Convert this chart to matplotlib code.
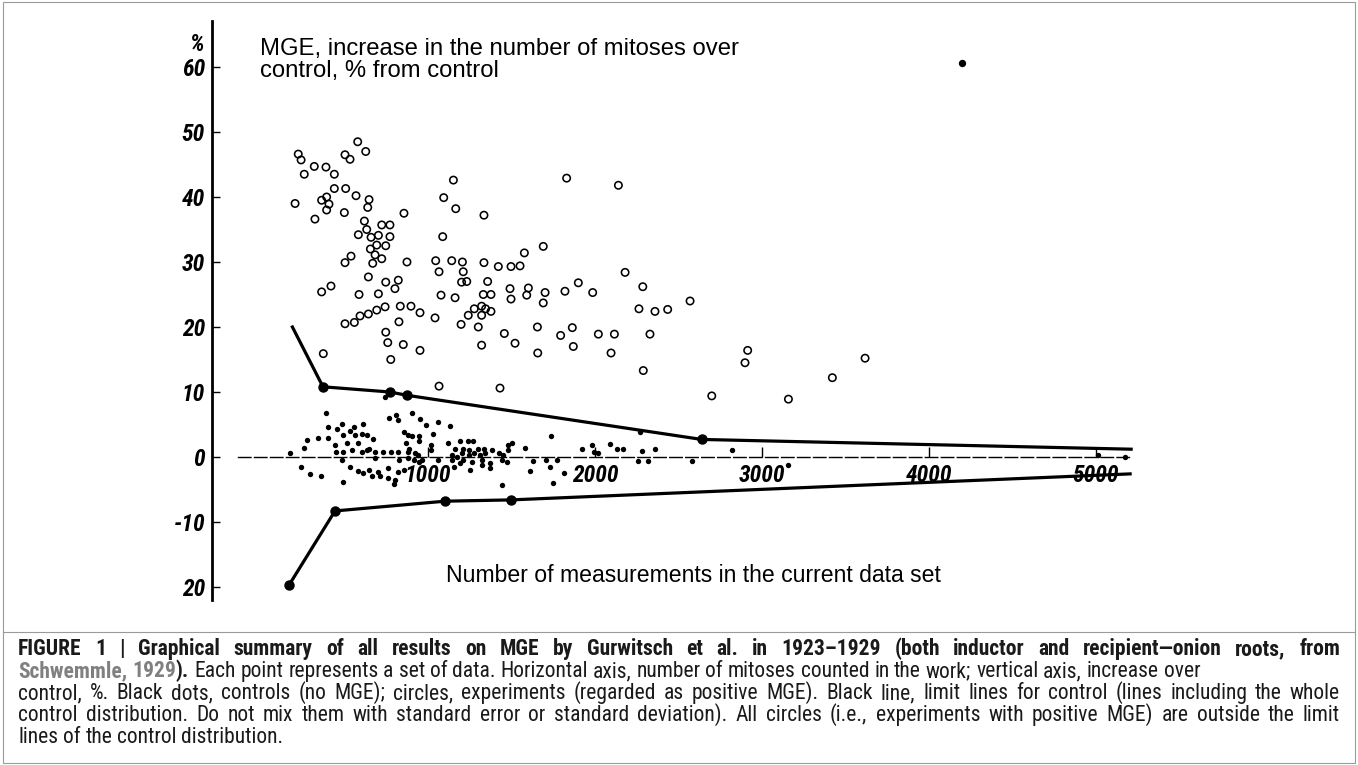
import matplotlib
matplotlib.use('Agg')
import matplotlib.pyplot as plt
from matplotlib import font_manager
from matplotlib.lines import Line2D
from matplotlib.patches import Rectangle

W, H = 1358, 765

# experiments (open circles): number of mitoses counted, increase over control %
exp_x = [223, 240, 319, 389, 259, 439, 579, 627, 503, 533, 439, 507, 569, 647, 204, 363, 393, 407,
         393, 499, 639, 323, 619, 856, 633, 723, 772, 583, 659, 703, 772, 693, 747, 655, 683, 723,
         669, 503, 539, 874, 1046, 1142, 1206, 1335, 1421, 1497, 1551, 1094, 1166, 1335, 1088, 1152,
         1830, 2140, 1577, 1690,
         363, 419, 587, 703, 643, 747, 822, 802, 503, 559, 593, 643, 693, 743, 834, 898, 952, 1042,
         826, 747, 759, 852, 952, 777, 373, 1066, 1211, 1201, 1232, 1357, 1078, 1162, 1331, 1377,
         1277, 1321, 1345, 1377, 1321, 1241, 1198, 1301, 1321, 1491, 1601, 1591, 1701, 1690, 1497,
         1820, 1900, 1986, 2286, 2180, 2263, 2359, 2435, 2569, 1457, 1521, 1655, 1657, 1794, 1864,
         1870, 2020, 2116, 2096, 2329, 2289, 1066, 1431, 2699,
         2914, 2898, 3617, 3421, 3158]
exp_y = [46.6, 45.7, 44.7, 44.6, 43.5, 43.5, 48.5, 47.0, 46.5, 45.8, 41.3, 41.3, 40.2, 39.6, 39.0, 39.5, 40.0, 38.9,
         38.0, 37.6, 38.4, 36.6, 36.3, 37.5, 35.0, 35.7, 35.7, 34.2, 33.8, 34.1, 33.9, 32.6, 32.5, 32.0, 31.1, 30.5,
         29.8, 29.9, 30.9, 30.0, 30.2, 30.2, 30.0, 29.9, 29.3, 29.3, 29.4, 39.9, 38.2, 37.2, 33.9, 42.6,
         42.9, 41.8, 31.4, 32.4,
         25.4, 26.3, 25.0, 25.1, 27.7, 26.9, 27.2, 25.9, 20.5, 20.7, 21.7, 22.0, 22.6, 23.1, 23.2, 23.2, 22.2, 21.4,
         20.8, 19.2, 17.6, 17.3, 16.4, 15.0, 15.9, 28.5, 28.5, 26.9, 27.0, 27.0, 24.9, 24.5, 25.0, 25.0,
         22.8, 23.2, 22.8, 22.4, 21.8, 21.8, 20.4, 20.0, 17.2, 25.9, 26.0, 24.9, 25.3, 23.7, 24.3,
         25.5, 26.8, 25.3, 26.2, 28.4, 22.8, 22.4, 22.7, 24.0, 19.0, 17.5, 20.0, 16.0, 18.7, 19.9,
         17.0, 18.9, 18.9, 16.0, 18.9, 13.3, 10.9, 10.6, 9.4,
         16.4, 14.5, 15.2, 12.2, 8.9]

# controls (black dots)
ctrl_x = [174, 259, 240, 293, 359, 274, 339, 387, 399, 399, 453, 483, 533, 559, 613, 493, 563, 607, 637, 673,
          443, 513, 583, 647, 447, 493, 547, 603, 633, 487, 683, 733, 778, 822, 878, 683, 826, 878, 918, 946,
          533, 583, 613, 647, 703, 663, 713, 762, 802, 759, 822, 858, 493, 798, 766, 806, 818, 906, 952, 986,
          1058, 1032, 1132, 858, 878, 866, 902, 946, 946, 1018, 1018, 886, 922, 942, 962, 1058, 1122, 1162,
          1192, 1241, 1271, 1211, 1246, 1301, 1337, 1142, 1172, 1202, 1246, 1277, 1311, 1341, 1381, 1425,
          1451, 1481, 1501, 1477, 1146, 1211, 1262, 1321, 1371, 1445, 1471, 1158, 1192, 1251, 1321, 1371,
          1445, 1581, 1631, 1611, 1705, 1737, 1731, 1771, 1751, 1817, 1920, 1980, 1996, 2020, 2090, 2129,
          2170, 2269, 2280, 2256, 2319, 2359, 2583, 2818, 3158, 5174, 5010, 743]
ctrl_y = [0.6, 1.4, -1.5, -2.6, -2.9, 2.6, 2.9, 6.7, 4.6, 2.9, 4.3, 5.1, 4.0, 4.6, 5.1, 3.4, 3.4, 3.5, 3.4, 2.7,
          1.8, 2.1, 2.1, 1.2, 0.8, 0.7, 1.1, 0.8, 1.1, -0.4, 0.8, 0.8, 0.8, 0.8, 0.8, -0.2, -0.5, -0.2, -0.5, -0.7,
          -1.6, -2.1, -2.4, -2.0, -2.3, -2.9, -3.0, -3.3, -3.5, -1.7, -2.3, -2.0, -3.8, -4.2, 6.0, 6.5, 5.7, 6.8, 5.8, 4.9,
          5.4, 3.6, 4.7, 3.9, 3.4, 2.1, 3.2, 3.2, 2.4, 1.8, 1.1, 1.2, 0.6, 0.3, -0.5, -0.5, 2.1, 1.3,
          2.4, 2.4, 2.4, 1.2, 1.1, 1.2, 1.2, 0.3, 0.0, 0.6, 0.3, 0.6, 0.3, 0.6, 1.1, 0.6,
          0.3, 1.8, 2.1, 1.1, -0.5, -0.5, -0.7, -0.4, -1.0, -0.5, -0.7, -1.5, -1.0, -2.0, -1.2, -1.7,
          -4.3, 1.4, -0.6, -2.2, -0.4, 3.2, -1.5, -0.5, -4.0, -2.4, 1.3, 1.8, 0.8, 0.6, 2.0, 1.2,
          1.2, 3.8, 0.9, -0.6, -0.6, 1.3, -0.6, 1.0, -1.2, 0.0, 0.3, 9.2]

# limit lines for the control distribution
upper_x = [188, 371, 772, 872, 2639, 5210]
upper_y = [20.0, 10.8, 10.0, 9.5, 2.7, 1.2]
lower_x = [168, 443, 1102, 1497, 5204]
lower_y = [-19.7, -8.3, -6.8, -6.6, -2.6]

# stray speck of the scan, top right
speck_x = [4198]
speck_y = [60.6]

x_ticks = [1000, 2000, 3000, 4000, 5000]
x_labels = ['1000', '2000', '3000', '4000', '5000']
y_ticks = [60, 50, 40, 30, 20, 10, 0, -10, -20]
y_labels = ['60', '50', '40', '30', '20', '10', '0', '-10', '20']

# fonts
avail = {f.name for f in font_manager.fontManager.ttflist}
narrow = next((n for n in ['Liberation Sans Narrow', 'Roboto Condensed', 'Open Sans Condensed']
               if n in avail), 'DejaVu Sans')
sans = 'Liberation Sans' if 'Liberation Sans' in avail else 'DejaVu Sans'

fig = plt.figure(figsize=(W / 100, H / 100), dpi=100)
fig.patch.set_facecolor('white')
ax = fig.add_axes([212 / W, (H - 605) / H, 938 / W, 585 / H])
ax.set_xlim(-293.4, 5323)
ax.set_ylim(-22.77, 67.23)

for s in ['top', 'right']:
    ax.spines[s].set_visible(False)
ax.spines['left'].set_linewidth(2.0)
ax.spines['left'].set_bounds(-22, 67)
ax.spines['bottom'].set_position(('data', 0))
ax.spines['bottom'].set_linewidth(1.0)
ax.spines['bottom'].set_linestyle((0, (9, 2.5)))
ax.spines['bottom'].set_bounds(-135, 5200)

tick_font = dict(family=narrow, style='italic', weight='bold', size=17)
ax.set_xticks(x_ticks)
ax.set_xticklabels(x_labels, **tick_font)
ax.set_yticks(y_ticks)
ax.set_yticklabels(y_labels, **tick_font)
ax.tick_params(axis='x', direction='in', length=7, width=1, pad=5)
ax.tick_params(axis='y', direction='in', length=6, width=1, pad=5)

# limit lines
ax.plot(upper_x, upper_y, '-o', color='black', lw=2.3, ms=6.5, markevery=[1, 2, 3, 4],
        solid_joinstyle='round', zorder=3)
ax.plot(lower_x, lower_y, '-o', color='black', lw=2.3, ms=6.5, markevery=[0, 1, 2, 3],
        solid_joinstyle='round', zorder=3)

# points
ax.scatter(exp_x, exp_y, s=28, facecolors='none', edgecolors='black', linewidths=1.15, zorder=4)
ax.scatter(ctrl_x, ctrl_y, s=15, color='black', linewidths=0, zorder=4)
ax.scatter(speck_x, speck_y, s=28, color='black', linewidths=0, zorder=4)

ax.text(-335, 63.4, '%', ha='right', va='center', **tick_font)
ax.text(-6, 61.0, 'MGE, increase in the number of mitoses over\ncontrol, % from control',
        ha='left', va='center', family=sans, fontsize=17.2, linespacing=1.0)
ax.text(1108, -18.3, 'Number of measurements in the current data set',
        ha='left', va='center', family=sans, fontsize=16.6)

# frame round figure and caption
fig.add_artist(Rectangle((3 / W, 1 - 763 / H), 1352 / W, 761 / H, transform=fig.transFigure,
                         fill=False, ec='#9a9a9a', lw=0.8))
fig.add_artist(Line2D([3 / W, 1355 / W], [1 - 632 / H] * 2, transform=fig.transFigure,
                      color='#9a9a9a', lw=0.8))

# caption
txt_col = '#1a1a1a'
link_col = '#808080'
cap_lines = [
    ([('FIGURE 1 | Graphical summary of all results on MGE by Gurwitsch et al. in 1923–1929 '
       '(both inductor and recipient—onion roots, from', 'bold', txt_col)], True),
    ([('Schwemmle, 1929', 'bold', link_col), (').', 'bold', txt_col),
      ('Each point represents a set of data. Horizontal axis, number of mitoses counted in the work; '
       'vertical axis, increase over', 'normal', txt_col)], False),
    ([('control, %. Black dots, controls (no MGE); circles, experiments (regarded as positive MGE). '
       'Black line, limit lines for control (lines including the whole', 'normal', txt_col)], True),
    ([('control distribution. Do not mix them with standard error or standard deviation). '
       'All circles (i.e., experiments with positive MGE) are outside the limit', 'normal', txt_col)], True),
    ([('lines of the control distribution.', 'normal', txt_col)], False),
]
baselines = [655, 677, 699, 721, 743]
x_left, x_right = 18, 1340

renderer = fig.canvas.get_renderer()


def measure(s, size, weight):
    t = fig.text(0, 0, s, family=narrow, size=size, weight=weight)
    w = t.get_window_extent(renderer).width
    t.remove()
    return w


def split_words(segs):
    words = []
    for seg_i, (s, wt, col) in enumerate(segs):
        parts = s.split(' ')
        for j, p in enumerate(parts):
            glue = (seg_i > 0 and j == 0 and p in (').',))
            words.append((p, wt, col, glue))
    return words


# calibrate size on line 2 (natural spacing), which ends at x=1197
ref_size = 10
words2 = split_words(cap_lines[1][0])
sp = measure('a a', ref_size, 'normal') - measure('aa', ref_size, 'normal')
nat = sum(measure(w, ref_size, wt) for w, wt, c, g in words2) + sp * sum(1 for w in words2[1:] if not w[3])
cap_size = ref_size * (1197 - x_left) / nat

space = measure('a a', cap_size, 'normal') - measure('aa', cap_size, 'normal')
for (segs, justify), yb in zip(cap_lines, baselines):
    words = split_words(segs)
    widths = [measure(w, cap_size, wt) for w, wt, c, g in words]
    n_gaps = sum(1 for w in words[1:] if not w[3])
    gap = (x_right - x_left - sum(widths)) / n_gaps if justify else space
    x = x_left
    for k, ((w, wt, col, glue), wd) in enumerate(zip(words, widths)):
        if k > 0 and not glue:
            x += gap
        fig.text(x / W, 1 - yb / H, w, family=narrow, size=cap_size, weight=wt, color=col,
                 ha='left', va='baseline')
        x += wd

fig.savefig('out.png', dpi=100, facecolor='white')
